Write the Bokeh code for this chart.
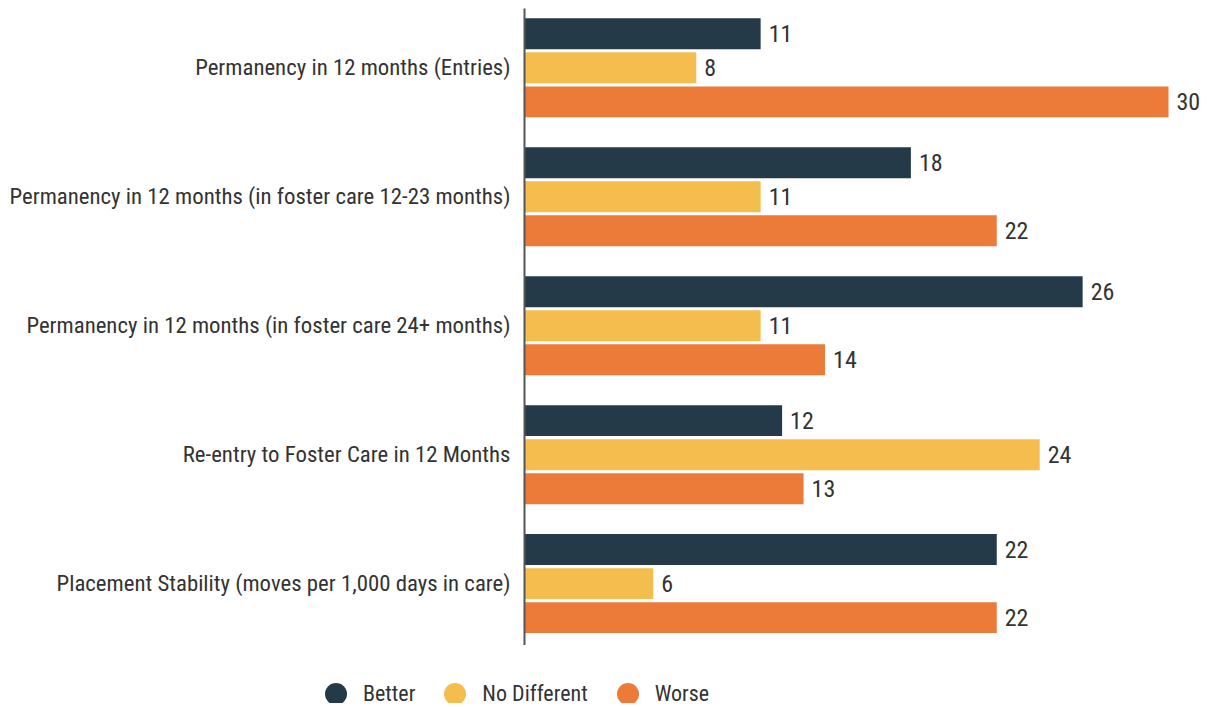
from bokeh.plotting import figure
from bokeh.models import (ColumnDataSource, Range1d, FixedTicker, Legend, LegendItem, LabelSet)
from bokeh.core.properties import value
from bokeh.transform import dodge
from bokeh.embed import file_html
from bokeh.resources import INLINE

categories = [
    "Permanency in 12 months (Entries)",
    "Permanency in 12 months (in foster care 12-23 months)",
    "Permanency in 12 months (in foster care 24+ months)",
    "Re-entry to Foster Care in 12 Months",
    "Placement Stability (moves per 1,000 days in care)",
]
better = [11, 18, 26, 12, 22]
no_different = [8, 11, 11, 24, 6]
worse = [30, 22, 14, 13, 22]
series_names = ["Better", "No Different", "Worse"]
colors = ["#243a48", "#f4bd4d", "#ec7a39"]

FONT = "Roboto Condensed"
TXT = "#333333"

src = ColumnDataSource(dict(
    pos=list(range(len(categories))),
    better=better, nodiff=no_different, worse=worse,
    better_s=[str(v) for v in better],
    nodiff_s=[str(v) for v in no_different],
    worse_s=[str(v) for v in worse],
))

p = figure(width=1209, height=645, output_backend="svg", toolbar_location=None,
           x_range=Range1d(0, 31.91), y_range=Range1d(4.48, -0.46),
           min_border_left=524, min_border_right=0, min_border_top=8, min_border_bottom=0)
p.outline_line_color = None
p.xgrid.visible = False
p.ygrid.visible = False
p.xaxis.visible = False

off = 0.264
h = 0.24
cols = ["better", "nodiff", "worse"]
offsets = [-off, 0.0, off]
for c, o, col in zip(cols, offsets, colors):
    p.hbar(y=dodge("pos", o, range=p.y_range), right=c, left=0, height=h,
           source=src, fill_color=col, line_color=None)
    lbl = LabelSet(x=c, y=dodge("pos", o, range=p.y_range), text=c + "_s", source=src,
                   x_offset=8, text_baseline="middle", text_align="left",
                   text_font=value(FONT), text_font_size=value("24px"), text_color=value(TXT))
    p.add_layout(lbl)

yax = p.yaxis[0]
yax.ticker = FixedTicker(ticks=list(range(len(categories))))
yax.major_label_overrides = {i: c for i, c in enumerate(categories)}
yax.major_tick_line_color = None
yax.minor_tick_line_color = None
yax.major_tick_out = 0
yax.major_label_standoff = 14
yax.axis_line_color = "#555555"
yax.axis_line_width = 2
yax.major_label_text_font = FONT
yax.major_label_text_font_size = "22.8px"
yax.major_label_text_color = TXT

# legend in its own strip below the chart (separate root so its frame spans the full width)
leg = figure(width=1209, height=58, output_backend="svg", toolbar_location=None,
             x_range=Range1d(0, 1), y_range=Range1d(0, 1),
             x_axis_location=None, y_axis_location=None, min_border=0)
leg.outline_line_color = None
leg.xgrid.visible = False
leg.ygrid.visible = False
proxy = ColumnDataSource(dict(x=[-10], y=[-10]))  # off-range proxy so legend glyphs render
items = []
for name, col in zip(series_names, colors):
    r = leg.scatter(x="x", y="y", source=proxy, marker="circle", size=22,
                    fill_color=col, line_color=None)
    items.append(LegendItem(label=name, renderers=[r]))
legend = Legend(items=items, orientation="horizontal", location=(308, -18),
                glyph_width=55, glyph_height=55, label_standoff=-5, spacing=12,
                padding=0, margin=0, border_line_color=None, background_fill_alpha=0,
                label_text_font=FONT, label_text_font_size="22px", label_text_color=TXT)
leg.add_layout(legend, "center")

open("out.html", "w").write(file_html([p, leg], INLINE))
